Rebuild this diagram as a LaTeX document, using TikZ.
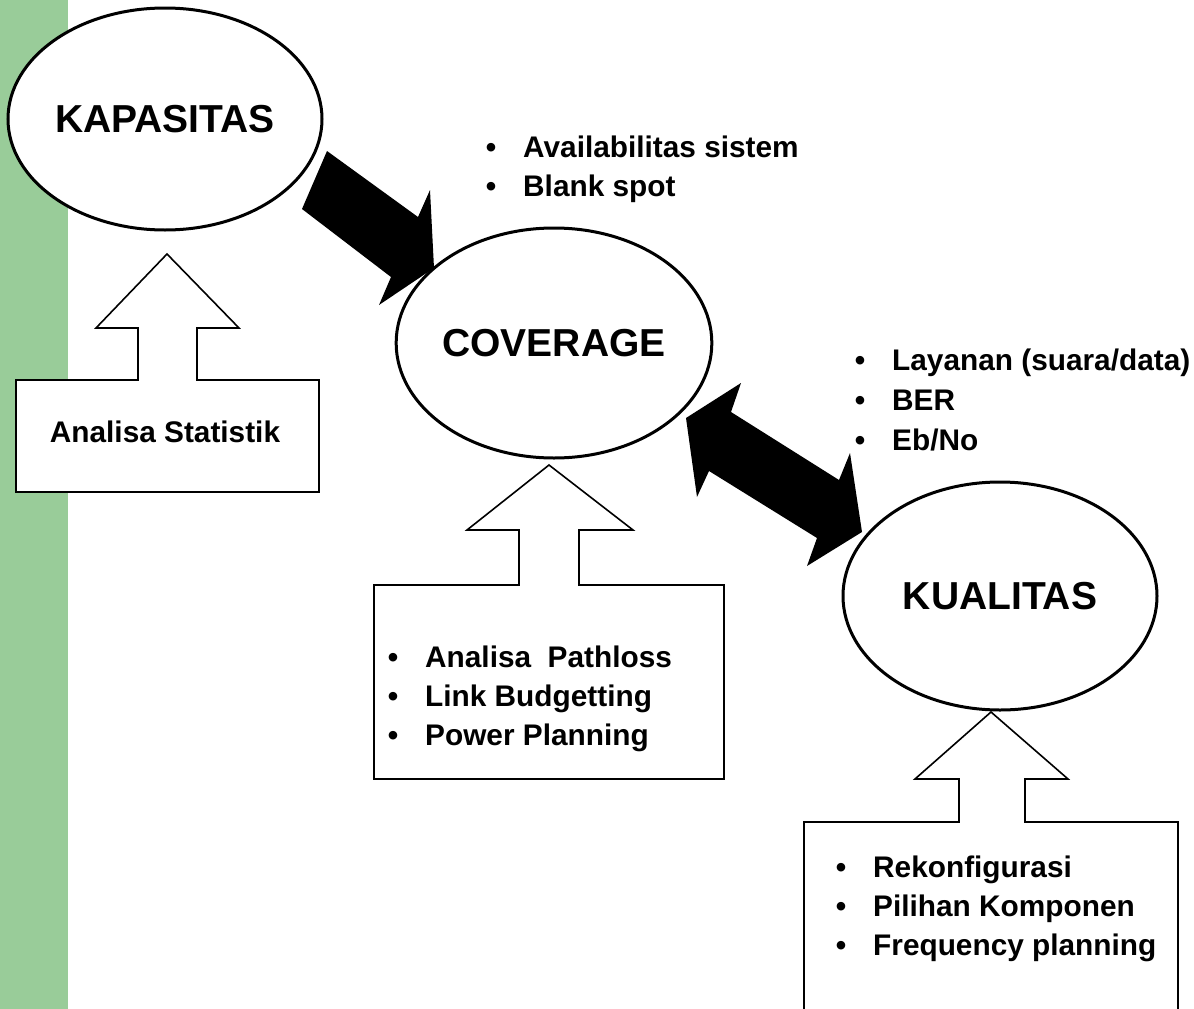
\documentclass[tikz,border=0pt]{standalone}
\usepackage{fontspec}
\setmainfont{Liberation Sans}
\usetikzlibrary{shapes.geometric}
\definecolor{sidebar}{RGB}{153,204,153}
\newcommand\itemdot{\llap{\textbullet\hspace{27pt}}}
\begin{document}
\begin{tikzpicture}[x=1pt,y=-1pt,
  oval/.style={ellipse, draw, line width=3pt, fill=white,
    minimum width=314pt, minimum height=226pt, inner sep=0pt,
    font=\fontsize{39}{45}\selectfont\bfseries},
  blockarrow/.style={fill=black},
  panel/.style={draw, line width=1.6pt, fill=white, line join=miter},
  line/.style={anchor=base west, inner sep=0pt,
    font=\fontsize{29.8}{39.5}\selectfont\bfseries},
  label/.style={inner sep=0pt, font=\fontsize{29.8}{39.5}\selectfont\bfseries}]

\useasboundingbox[fill=white] (0,0) rectangle (1194,1009);
\fill[sidebar] (0,0) rectangle (68,1009);

% solid block arrows between the three ovals
\fill[blockarrow] (327,151) -- (418,217) -- (430,190) -- (434,268)
  -- (379,305) -- (391,277) -- (302,209) -- cycle;
\fill[blockarrow] (686,418) -- (741,383) -- (731,412) -- (839,480)
  -- (850,453) -- (862,532) -- (807,566) -- (817,538) -- (709,471)
  -- (697,497) -- cycle;

% ovals
\node[oval, minimum height=222pt] (kap) at (165,119) {KAPASITAS};
\node[oval, minimum width=312pt, minimum height=230pt] (cov) at (554,343) {COVERAGE};
\node[oval, minimum height=228pt] (kua) at (1000,596) {KUALITAS};

% input panels with hollow up-arrows
\draw[panel] (16,380) -- (138,380) -- (138,328) -- (96,328) -- (167,254)
  -- (239,328) -- (197,328) -- (197,380) -- (319,380) -- (319,492)
  -- (16,492) -- cycle;
\draw[panel] (374,585) -- (519,585) -- (519,530) -- (467,530) -- (549,465)
  -- (633,530) -- (579,530) -- (579,585) -- (724,585) -- (724,779)
  -- (374,779) -- cycle;
\draw[panel] (804,1012) -- (804,822) -- (959,822) -- (959,779) -- (915,779)
  -- (991,712) -- (1068,779) -- (1025,779) -- (1025,822) -- (1178,822)
  -- (1178,1012);

\node[label] (stat) at (165,432) {Analisa Statistik};

% bullet lists
\node[line] (avail) at (523,157) {\itemdot Availabilitas sistem};
\node[line] (blank) at (523,196) {\itemdot Blank spot};

\node[line] (layanan) at (892,370) {\itemdot Layanan (suara/data)};
\node[line] (ber) at (892,410) {\itemdot BER};
\node[line] (ebno) at (892,450) {\itemdot Eb/No};

\node[line] (pathloss) at (425,667) {\itemdot Analisa\ \ Pathloss};
\node[line] (budget) at (425,706) {\itemdot Link Budgetting};
\node[line] (power) at (425,745) {\itemdot Power Planning};

\node[line] (rekon) at (873,877) {\itemdot Rekonfigurasi};
\node[line] (pilihan) at (873,916) {\itemdot Pilihan Komponen};
\node[line] (freq) at (873,955) {\itemdot Frequency planning};
\end{tikzpicture}
\end{document}
